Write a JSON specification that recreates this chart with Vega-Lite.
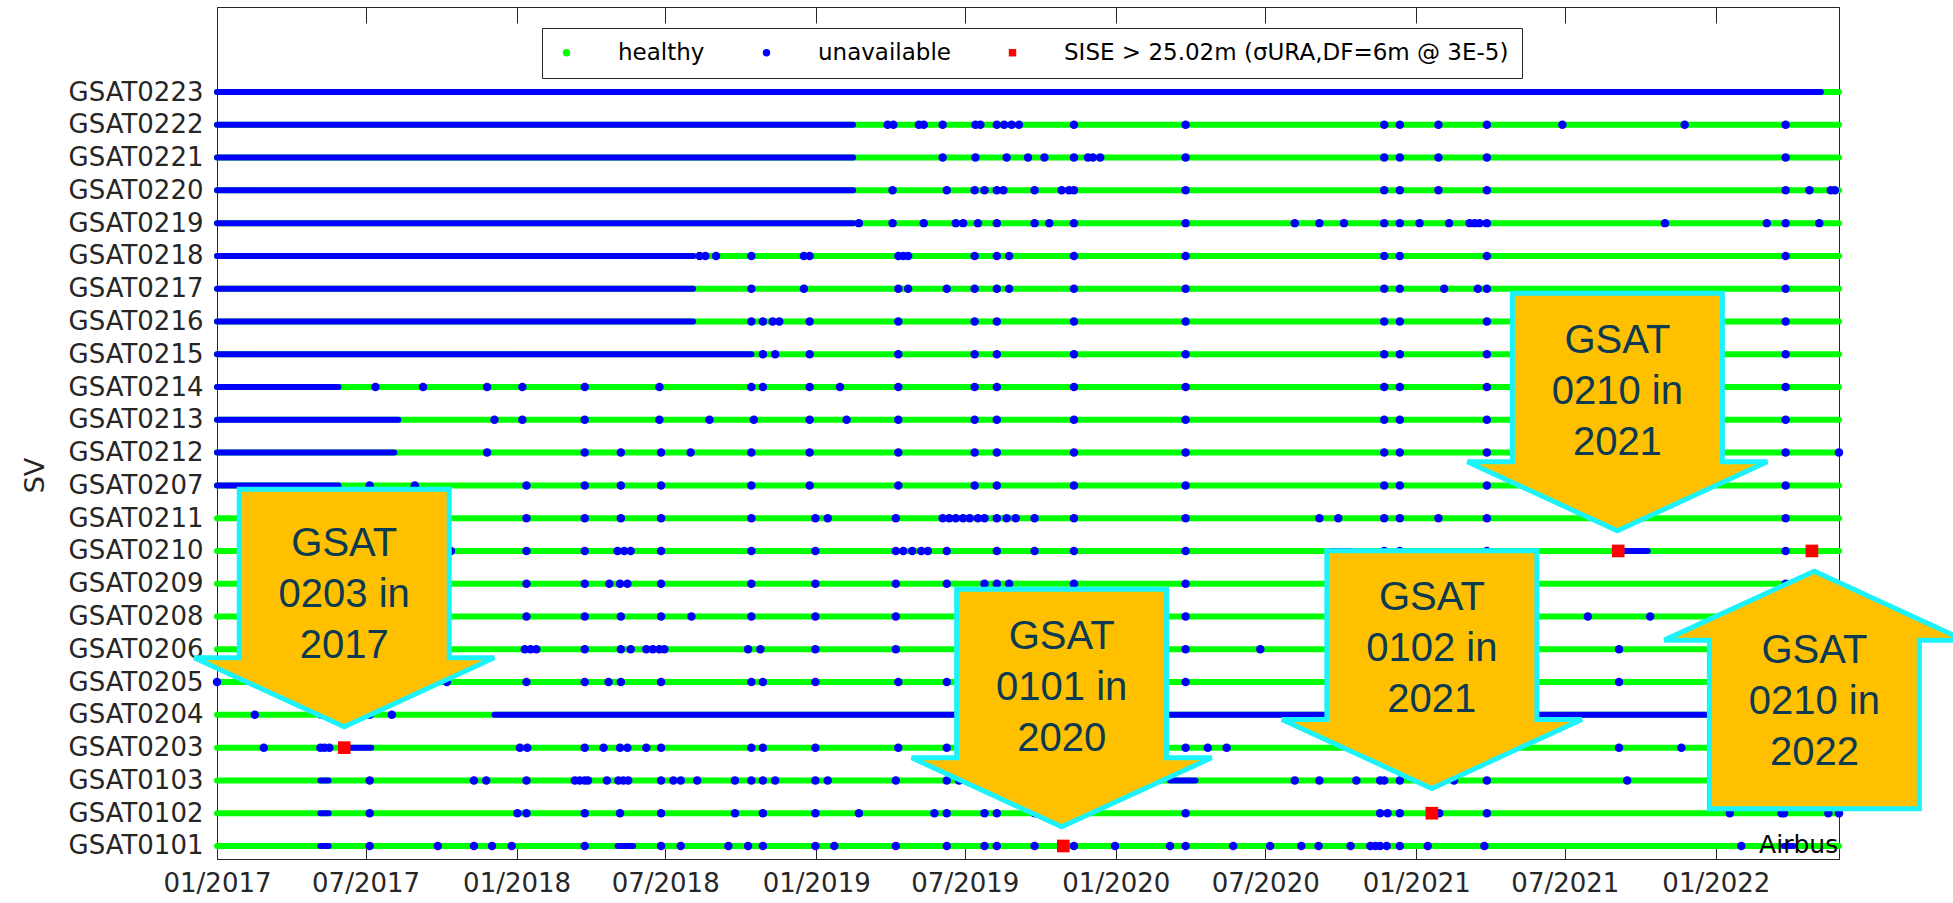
{
  "$schema": "https://vega.github.io/schema/vega-lite/v6.json",
  "width": 1622,
  "height": 852,
  "autosize": {"type": "none"},
  "padding": {"left": 217, "top": 7, "right": 114, "bottom": 44},
  "background": "white",
  "datasets": {
    "svs": [
      {"sv": "GSAT0101", "row": 1, "start": "2017-01-01", "end": "2022-05-31"},
      {"sv": "GSAT0102", "row": 2, "start": "2017-01-01", "end": "2022-05-31"},
      {"sv": "GSAT0103", "row": 3, "start": "2017-01-01", "end": "2022-05-31"},
      {"sv": "GSAT0203", "row": 4, "start": "2017-01-01", "end": "2022-05-31"},
      {"sv": "GSAT0204", "row": 5, "start": "2017-01-01", "end": "2022-05-31"},
      {"sv": "GSAT0205", "row": 6, "start": "2017-01-01", "end": "2022-05-31"},
      {"sv": "GSAT0206", "row": 7, "start": "2017-01-01", "end": "2022-05-31"},
      {"sv": "GSAT0208", "row": 8, "start": "2017-01-01", "end": "2022-05-31"},
      {"sv": "GSAT0209", "row": 9, "start": "2017-01-01", "end": "2022-05-31"},
      {"sv": "GSAT0210", "row": 10, "start": "2017-01-01", "end": "2022-05-31"},
      {"sv": "GSAT0211", "row": 11, "start": "2017-01-01", "end": "2022-05-31"},
      {"sv": "GSAT0207", "row": 12, "start": "2017-01-01", "end": "2022-05-31"},
      {"sv": "GSAT0212", "row": 13, "start": "2017-01-01", "end": "2022-05-31"},
      {"sv": "GSAT0213", "row": 14, "start": "2017-01-01", "end": "2022-05-31"},
      {"sv": "GSAT0214", "row": 15, "start": "2017-01-01", "end": "2022-05-31"},
      {"sv": "GSAT0215", "row": 16, "start": "2017-01-01", "end": "2022-05-31"},
      {"sv": "GSAT0216", "row": 17, "start": "2017-01-01", "end": "2022-05-31"},
      {"sv": "GSAT0217", "row": 18, "start": "2017-01-01", "end": "2022-05-31"},
      {"sv": "GSAT0218", "row": 19, "start": "2017-01-01", "end": "2022-05-31"},
      {"sv": "GSAT0219", "row": 20, "start": "2017-01-01", "end": "2022-05-31"},
      {"sv": "GSAT0220", "row": 21, "start": "2017-01-01", "end": "2022-05-31"},
      {"sv": "GSAT0221", "row": 22, "start": "2017-01-01", "end": "2022-05-31"},
      {"sv": "GSAT0222", "row": 23, "start": "2017-01-01", "end": "2022-05-31"},
      {"sv": "GSAT0223", "row": 24, "start": "2017-01-01", "end": "2022-05-31"}
    ],
    "blue": [
      {"sv": "GSAT0223", "start": "2017-01-01", "end": "2022-05-09"},
      {"sv": "GSAT0222", "start": "2017-01-01", "end": "2019-02-15"},
      {"sv": "GSAT0221", "start": "2017-01-01", "end": "2019-02-15"},
      {"sv": "GSAT0220", "start": "2017-01-01", "end": "2019-02-15"},
      {"sv": "GSAT0219", "start": "2017-01-01", "end": "2019-02-15"},
      {"sv": "GSAT0218", "start": "2017-01-01", "end": "2018-08-04"},
      {"sv": "GSAT0217", "start": "2017-01-01", "end": "2018-08-04"},
      {"sv": "GSAT0216", "start": "2017-01-01", "end": "2018-08-04"},
      {"sv": "GSAT0215", "start": "2017-01-01", "end": "2018-10-14"},
      {"sv": "GSAT0214", "start": "2017-01-01", "end": "2017-05-29"},
      {"sv": "GSAT0213", "start": "2017-01-01", "end": "2017-08-10"},
      {"sv": "GSAT0212", "start": "2017-01-01", "end": "2017-08-05"},
      {"sv": "GSAT0207", "start": "2017-01-01", "end": "2017-05-29"},
      {"sv": "GSAT0204", "start": "2017-12-05", "end": "2022-05-31"},
      {"sv": "GSAT0203", "start": "2017-06-14", "end": "2017-07-08"},
      {"sv": "GSAT0210", "start": "2020-09-20", "end": "2020-10-13"},
      {"sv": "GSAT0210", "start": "2021-09-10", "end": "2021-10-10"},
      {"sv": "GSAT0103", "start": "2020-03-07", "end": "2020-04-07"},
      {"sv": "GSAT0101", "start": "2018-05-04", "end": "2018-05-23"},
      {"sv": "GSAT0101", "start": "2022-03-25", "end": "2022-04-05"},
      {"sv": "GSAT0101", "start": "2017-05-07", "end": "2017-05-17"},
      {"sv": "GSAT0102", "start": "2017-05-07", "end": "2017-05-17"},
      {"sv": "GSAT0103", "start": "2017-05-07", "end": "2017-05-17"}
    ],
    "events": [
      {"sv": "GSAT0222", "date": "2019-03-29", "status": "unavailable"},
      {"sv": "GSAT0222", "date": "2019-04-05", "status": "unavailable"},
      {"sv": "GSAT0222", "date": "2019-05-06", "status": "unavailable"},
      {"sv": "GSAT0222", "date": "2019-05-12", "status": "unavailable"},
      {"sv": "GSAT0222", "date": "2019-06-04", "status": "unavailable"},
      {"sv": "GSAT0222", "date": "2019-07-14", "status": "unavailable"},
      {"sv": "GSAT0222", "date": "2019-07-20", "status": "unavailable"},
      {"sv": "GSAT0222", "date": "2019-08-09", "status": "unavailable"},
      {"sv": "GSAT0222", "date": "2019-08-18", "status": "unavailable"},
      {"sv": "GSAT0222", "date": "2019-08-27", "status": "unavailable"},
      {"sv": "GSAT0222", "date": "2019-09-05", "status": "unavailable"},
      {"sv": "GSAT0222", "date": "2019-11-11", "status": "unavailable"},
      {"sv": "GSAT0222", "date": "2020-03-26", "status": "unavailable"},
      {"sv": "GSAT0222", "date": "2020-11-23", "status": "unavailable"},
      {"sv": "GSAT0222", "date": "2020-12-12", "status": "unavailable"},
      {"sv": "GSAT0222", "date": "2021-01-28", "status": "unavailable"},
      {"sv": "GSAT0222", "date": "2021-03-28", "status": "unavailable"},
      {"sv": "GSAT0222", "date": "2021-06-28", "status": "unavailable"},
      {"sv": "GSAT0222", "date": "2021-11-24", "status": "unavailable"},
      {"sv": "GSAT0222", "date": "2022-03-27", "status": "unavailable"},
      {"sv": "GSAT0221", "date": "2019-06-04", "status": "unavailable"},
      {"sv": "GSAT0221", "date": "2019-07-14", "status": "unavailable"},
      {"sv": "GSAT0221", "date": "2019-08-21", "status": "unavailable"},
      {"sv": "GSAT0221", "date": "2019-09-16", "status": "unavailable"},
      {"sv": "GSAT0221", "date": "2019-10-06", "status": "unavailable"},
      {"sv": "GSAT0221", "date": "2019-11-11", "status": "unavailable"},
      {"sv": "GSAT0221", "date": "2019-11-28", "status": "unavailable"},
      {"sv": "GSAT0221", "date": "2019-12-04", "status": "unavailable"},
      {"sv": "GSAT0221", "date": "2019-12-13", "status": "unavailable"},
      {"sv": "GSAT0221", "date": "2020-03-26", "status": "unavailable"},
      {"sv": "GSAT0221", "date": "2020-11-23", "status": "unavailable"},
      {"sv": "GSAT0221", "date": "2020-12-12", "status": "unavailable"},
      {"sv": "GSAT0221", "date": "2021-01-28", "status": "unavailable"},
      {"sv": "GSAT0221", "date": "2021-03-28", "status": "unavailable"},
      {"sv": "GSAT0221", "date": "2022-03-27", "status": "unavailable"},
      {"sv": "GSAT0220", "date": "2019-04-04", "status": "unavailable"},
      {"sv": "GSAT0220", "date": "2019-06-09", "status": "unavailable"},
      {"sv": "GSAT0220", "date": "2019-07-13", "status": "unavailable"},
      {"sv": "GSAT0220", "date": "2019-07-25", "status": "unavailable"},
      {"sv": "GSAT0220", "date": "2019-08-09", "status": "unavailable"},
      {"sv": "GSAT0220", "date": "2019-08-17", "status": "unavailable"},
      {"sv": "GSAT0220", "date": "2019-09-24", "status": "unavailable"},
      {"sv": "GSAT0220", "date": "2019-10-27", "status": "unavailable"},
      {"sv": "GSAT0220", "date": "2019-11-05", "status": "unavailable"},
      {"sv": "GSAT0220", "date": "2019-11-11", "status": "unavailable"},
      {"sv": "GSAT0220", "date": "2020-03-26", "status": "unavailable"},
      {"sv": "GSAT0220", "date": "2020-11-23", "status": "unavailable"},
      {"sv": "GSAT0220", "date": "2020-12-12", "status": "unavailable"},
      {"sv": "GSAT0220", "date": "2021-01-28", "status": "unavailable"},
      {"sv": "GSAT0220", "date": "2021-03-28", "status": "unavailable"},
      {"sv": "GSAT0220", "date": "2022-03-27", "status": "unavailable"},
      {"sv": "GSAT0220", "date": "2022-04-25", "status": "unavailable"},
      {"sv": "GSAT0220", "date": "2022-05-21", "status": "unavailable"},
      {"sv": "GSAT0220", "date": "2022-05-26", "status": "unavailable"},
      {"sv": "GSAT0219", "date": "2019-02-22", "status": "unavailable"},
      {"sv": "GSAT0219", "date": "2019-04-04", "status": "unavailable"},
      {"sv": "GSAT0219", "date": "2019-05-12", "status": "unavailable"},
      {"sv": "GSAT0219", "date": "2019-06-20", "status": "unavailable"},
      {"sv": "GSAT0219", "date": "2019-06-29", "status": "unavailable"},
      {"sv": "GSAT0219", "date": "2019-07-17", "status": "unavailable"},
      {"sv": "GSAT0219", "date": "2019-08-09", "status": "unavailable"},
      {"sv": "GSAT0219", "date": "2019-09-24", "status": "unavailable"},
      {"sv": "GSAT0219", "date": "2019-10-12", "status": "unavailable"},
      {"sv": "GSAT0219", "date": "2019-11-11", "status": "unavailable"},
      {"sv": "GSAT0219", "date": "2020-03-26", "status": "unavailable"},
      {"sv": "GSAT0219", "date": "2020-08-06", "status": "unavailable"},
      {"sv": "GSAT0219", "date": "2020-09-05", "status": "unavailable"},
      {"sv": "GSAT0219", "date": "2020-10-05", "status": "unavailable"},
      {"sv": "GSAT0219", "date": "2020-11-23", "status": "unavailable"},
      {"sv": "GSAT0219", "date": "2020-12-12", "status": "unavailable"},
      {"sv": "GSAT0219", "date": "2021-01-05", "status": "unavailable"},
      {"sv": "GSAT0219", "date": "2021-02-10", "status": "unavailable"},
      {"sv": "GSAT0219", "date": "2021-03-07", "status": "unavailable"},
      {"sv": "GSAT0219", "date": "2021-03-13", "status": "unavailable"},
      {"sv": "GSAT0219", "date": "2021-03-19", "status": "unavailable"},
      {"sv": "GSAT0219", "date": "2021-03-28", "status": "unavailable"},
      {"sv": "GSAT0219", "date": "2021-10-31", "status": "unavailable"},
      {"sv": "GSAT0219", "date": "2022-03-04", "status": "unavailable"},
      {"sv": "GSAT0219", "date": "2022-03-27", "status": "unavailable"},
      {"sv": "GSAT0219", "date": "2022-05-07", "status": "unavailable"},
      {"sv": "GSAT0218", "date": "2018-08-12", "status": "unavailable"},
      {"sv": "GSAT0218", "date": "2018-08-19", "status": "unavailable"},
      {"sv": "GSAT0218", "date": "2018-09-01", "status": "unavailable"},
      {"sv": "GSAT0218", "date": "2018-10-14", "status": "unavailable"},
      {"sv": "GSAT0218", "date": "2018-12-17", "status": "unavailable"},
      {"sv": "GSAT0218", "date": "2018-12-24", "status": "unavailable"},
      {"sv": "GSAT0218", "date": "2019-04-11", "status": "unavailable"},
      {"sv": "GSAT0218", "date": "2019-04-17", "status": "unavailable"},
      {"sv": "GSAT0218", "date": "2019-04-23", "status": "unavailable"},
      {"sv": "GSAT0218", "date": "2019-07-13", "status": "unavailable"},
      {"sv": "GSAT0218", "date": "2019-08-09", "status": "unavailable"},
      {"sv": "GSAT0218", "date": "2019-08-24", "status": "unavailable"},
      {"sv": "GSAT0218", "date": "2019-11-11", "status": "unavailable"},
      {"sv": "GSAT0218", "date": "2020-03-26", "status": "unavailable"},
      {"sv": "GSAT0218", "date": "2020-11-23", "status": "unavailable"},
      {"sv": "GSAT0218", "date": "2020-12-12", "status": "unavailable"},
      {"sv": "GSAT0218", "date": "2021-03-28", "status": "unavailable"},
      {"sv": "GSAT0218", "date": "2022-03-27", "status": "unavailable"},
      {"sv": "GSAT0217", "date": "2018-10-14", "status": "unavailable"},
      {"sv": "GSAT0217", "date": "2018-12-17", "status": "unavailable"},
      {"sv": "GSAT0217", "date": "2019-04-11", "status": "unavailable"},
      {"sv": "GSAT0217", "date": "2019-04-23", "status": "unavailable"},
      {"sv": "GSAT0217", "date": "2019-06-09", "status": "unavailable"},
      {"sv": "GSAT0217", "date": "2019-07-13", "status": "unavailable"},
      {"sv": "GSAT0217", "date": "2019-08-09", "status": "unavailable"},
      {"sv": "GSAT0217", "date": "2019-08-24", "status": "unavailable"},
      {"sv": "GSAT0217", "date": "2019-11-11", "status": "unavailable"},
      {"sv": "GSAT0217", "date": "2020-03-26", "status": "unavailable"},
      {"sv": "GSAT0217", "date": "2020-11-23", "status": "unavailable"},
      {"sv": "GSAT0217", "date": "2020-12-12", "status": "unavailable"},
      {"sv": "GSAT0217", "date": "2021-02-04", "status": "unavailable"},
      {"sv": "GSAT0217", "date": "2021-03-17", "status": "unavailable"},
      {"sv": "GSAT0217", "date": "2021-03-28", "status": "unavailable"},
      {"sv": "GSAT0217", "date": "2022-03-27", "status": "unavailable"},
      {"sv": "GSAT0216", "date": "2018-10-14", "status": "unavailable"},
      {"sv": "GSAT0216", "date": "2018-10-28", "status": "unavailable"},
      {"sv": "GSAT0216", "date": "2018-11-09", "status": "unavailable"},
      {"sv": "GSAT0216", "date": "2018-11-17", "status": "unavailable"},
      {"sv": "GSAT0216", "date": "2018-12-24", "status": "unavailable"},
      {"sv": "GSAT0216", "date": "2019-04-11", "status": "unavailable"},
      {"sv": "GSAT0216", "date": "2019-07-13", "status": "unavailable"},
      {"sv": "GSAT0216", "date": "2019-08-09", "status": "unavailable"},
      {"sv": "GSAT0216", "date": "2019-11-11", "status": "unavailable"},
      {"sv": "GSAT0216", "date": "2020-03-26", "status": "unavailable"},
      {"sv": "GSAT0216", "date": "2020-11-23", "status": "unavailable"},
      {"sv": "GSAT0216", "date": "2020-12-12", "status": "unavailable"},
      {"sv": "GSAT0216", "date": "2021-03-28", "status": "unavailable"},
      {"sv": "GSAT0216", "date": "2022-03-27", "status": "unavailable"},
      {"sv": "GSAT0215", "date": "2018-10-28", "status": "unavailable"},
      {"sv": "GSAT0215", "date": "2018-11-12", "status": "unavailable"},
      {"sv": "GSAT0215", "date": "2018-12-24", "status": "unavailable"},
      {"sv": "GSAT0215", "date": "2019-04-11", "status": "unavailable"},
      {"sv": "GSAT0215", "date": "2019-07-13", "status": "unavailable"},
      {"sv": "GSAT0215", "date": "2019-08-09", "status": "unavailable"},
      {"sv": "GSAT0215", "date": "2019-11-11", "status": "unavailable"},
      {"sv": "GSAT0215", "date": "2020-03-26", "status": "unavailable"},
      {"sv": "GSAT0215", "date": "2020-11-23", "status": "unavailable"},
      {"sv": "GSAT0215", "date": "2020-12-12", "status": "unavailable"},
      {"sv": "GSAT0215", "date": "2021-03-28", "status": "unavailable"},
      {"sv": "GSAT0215", "date": "2022-03-27", "status": "unavailable"},
      {"sv": "GSAT0214", "date": "2017-07-13", "status": "unavailable"},
      {"sv": "GSAT0214", "date": "2017-09-09", "status": "unavailable"},
      {"sv": "GSAT0214", "date": "2017-11-26", "status": "unavailable"},
      {"sv": "GSAT0214", "date": "2018-01-08", "status": "unavailable"},
      {"sv": "GSAT0214", "date": "2018-03-25", "status": "unavailable"},
      {"sv": "GSAT0214", "date": "2018-06-24", "status": "unavailable"},
      {"sv": "GSAT0214", "date": "2018-10-14", "status": "unavailable"},
      {"sv": "GSAT0214", "date": "2018-10-28", "status": "unavailable"},
      {"sv": "GSAT0214", "date": "2018-12-24", "status": "unavailable"},
      {"sv": "GSAT0214", "date": "2019-01-30", "status": "unavailable"},
      {"sv": "GSAT0214", "date": "2019-04-11", "status": "unavailable"},
      {"sv": "GSAT0214", "date": "2019-07-13", "status": "unavailable"},
      {"sv": "GSAT0214", "date": "2019-08-09", "status": "unavailable"},
      {"sv": "GSAT0214", "date": "2019-11-11", "status": "unavailable"},
      {"sv": "GSAT0214", "date": "2020-03-26", "status": "unavailable"},
      {"sv": "GSAT0214", "date": "2020-11-23", "status": "unavailable"},
      {"sv": "GSAT0214", "date": "2020-12-12", "status": "unavailable"},
      {"sv": "GSAT0214", "date": "2021-03-28", "status": "unavailable"},
      {"sv": "GSAT0214", "date": "2022-03-27", "status": "unavailable"},
      {"sv": "GSAT0213", "date": "2017-12-05", "status": "unavailable"},
      {"sv": "GSAT0213", "date": "2018-01-08", "status": "unavailable"},
      {"sv": "GSAT0213", "date": "2018-03-25", "status": "unavailable"},
      {"sv": "GSAT0213", "date": "2018-06-24", "status": "unavailable"},
      {"sv": "GSAT0213", "date": "2018-08-24", "status": "unavailable"},
      {"sv": "GSAT0213", "date": "2018-10-17", "status": "unavailable"},
      {"sv": "GSAT0213", "date": "2018-12-24", "status": "unavailable"},
      {"sv": "GSAT0213", "date": "2019-02-07", "status": "unavailable"},
      {"sv": "GSAT0213", "date": "2019-04-11", "status": "unavailable"},
      {"sv": "GSAT0213", "date": "2019-07-13", "status": "unavailable"},
      {"sv": "GSAT0213", "date": "2019-08-09", "status": "unavailable"},
      {"sv": "GSAT0213", "date": "2019-11-11", "status": "unavailable"},
      {"sv": "GSAT0213", "date": "2020-03-26", "status": "unavailable"},
      {"sv": "GSAT0213", "date": "2020-11-23", "status": "unavailable"},
      {"sv": "GSAT0213", "date": "2020-12-12", "status": "unavailable"},
      {"sv": "GSAT0213", "date": "2021-03-28", "status": "unavailable"},
      {"sv": "GSAT0213", "date": "2022-03-27", "status": "unavailable"},
      {"sv": "GSAT0212", "date": "2017-11-26", "status": "unavailable"},
      {"sv": "GSAT0212", "date": "2018-03-25", "status": "unavailable"},
      {"sv": "GSAT0212", "date": "2018-05-08", "status": "unavailable"},
      {"sv": "GSAT0212", "date": "2018-06-26", "status": "unavailable"},
      {"sv": "GSAT0212", "date": "2018-08-01", "status": "unavailable"},
      {"sv": "GSAT0212", "date": "2018-10-14", "status": "unavailable"},
      {"sv": "GSAT0212", "date": "2018-12-24", "status": "unavailable"},
      {"sv": "GSAT0212", "date": "2019-04-11", "status": "unavailable"},
      {"sv": "GSAT0212", "date": "2019-07-13", "status": "unavailable"},
      {"sv": "GSAT0212", "date": "2019-08-09", "status": "unavailable"},
      {"sv": "GSAT0212", "date": "2019-11-11", "status": "unavailable"},
      {"sv": "GSAT0212", "date": "2020-03-26", "status": "unavailable"},
      {"sv": "GSAT0212", "date": "2020-11-23", "status": "unavailable"},
      {"sv": "GSAT0212", "date": "2020-12-12", "status": "unavailable"},
      {"sv": "GSAT0212", "date": "2021-03-28", "status": "unavailable"},
      {"sv": "GSAT0212", "date": "2022-03-27", "status": "unavailable"},
      {"sv": "GSAT0212", "date": "2022-05-31", "status": "unavailable"},
      {"sv": "GSAT0207", "date": "2017-07-06", "status": "unavailable"},
      {"sv": "GSAT0207", "date": "2017-08-30", "status": "unavailable"},
      {"sv": "GSAT0207", "date": "2018-01-13", "status": "unavailable"},
      {"sv": "GSAT0207", "date": "2018-03-25", "status": "unavailable"},
      {"sv": "GSAT0207", "date": "2018-05-08", "status": "unavailable"},
      {"sv": "GSAT0207", "date": "2018-06-26", "status": "unavailable"},
      {"sv": "GSAT0207", "date": "2018-10-14", "status": "unavailable"},
      {"sv": "GSAT0207", "date": "2018-12-24", "status": "unavailable"},
      {"sv": "GSAT0207", "date": "2019-04-11", "status": "unavailable"},
      {"sv": "GSAT0207", "date": "2019-07-13", "status": "unavailable"},
      {"sv": "GSAT0207", "date": "2019-08-09", "status": "unavailable"},
      {"sv": "GSAT0207", "date": "2019-11-11", "status": "unavailable"},
      {"sv": "GSAT0207", "date": "2020-03-26", "status": "unavailable"},
      {"sv": "GSAT0207", "date": "2020-11-23", "status": "unavailable"},
      {"sv": "GSAT0207", "date": "2020-12-12", "status": "unavailable"},
      {"sv": "GSAT0207", "date": "2021-03-28", "status": "unavailable"},
      {"sv": "GSAT0207", "date": "2022-03-27", "status": "unavailable"},
      {"sv": "GSAT0211", "date": "2018-01-13", "status": "unavailable"},
      {"sv": "GSAT0211", "date": "2018-03-25", "status": "unavailable"},
      {"sv": "GSAT0211", "date": "2018-05-08", "status": "unavailable"},
      {"sv": "GSAT0211", "date": "2018-06-26", "status": "unavailable"},
      {"sv": "GSAT0211", "date": "2018-10-14", "status": "unavailable"},
      {"sv": "GSAT0211", "date": "2018-12-31", "status": "unavailable"},
      {"sv": "GSAT0211", "date": "2019-01-15", "status": "unavailable"},
      {"sv": "GSAT0211", "date": "2019-04-08", "status": "unavailable"},
      {"sv": "GSAT0211", "date": "2019-06-04", "status": "unavailable"},
      {"sv": "GSAT0211", "date": "2019-06-12", "status": "unavailable"},
      {"sv": "GSAT0211", "date": "2019-06-20", "status": "unavailable"},
      {"sv": "GSAT0211", "date": "2019-06-29", "status": "unavailable"},
      {"sv": "GSAT0211", "date": "2019-07-07", "status": "unavailable"},
      {"sv": "GSAT0211", "date": "2019-07-17", "status": "unavailable"},
      {"sv": "GSAT0211", "date": "2019-07-25", "status": "unavailable"},
      {"sv": "GSAT0211", "date": "2019-08-09", "status": "unavailable"},
      {"sv": "GSAT0211", "date": "2019-08-21", "status": "unavailable"},
      {"sv": "GSAT0211", "date": "2019-09-01", "status": "unavailable"},
      {"sv": "GSAT0211", "date": "2019-09-24", "status": "unavailable"},
      {"sv": "GSAT0211", "date": "2019-11-11", "status": "unavailable"},
      {"sv": "GSAT0211", "date": "2020-03-26", "status": "unavailable"},
      {"sv": "GSAT0211", "date": "2020-09-05", "status": "unavailable"},
      {"sv": "GSAT0211", "date": "2020-09-28", "status": "unavailable"},
      {"sv": "GSAT0211", "date": "2020-11-23", "status": "unavailable"},
      {"sv": "GSAT0211", "date": "2020-12-12", "status": "unavailable"},
      {"sv": "GSAT0211", "date": "2021-01-28", "status": "unavailable"},
      {"sv": "GSAT0211", "date": "2021-03-28", "status": "unavailable"},
      {"sv": "GSAT0211", "date": "2022-03-27", "status": "unavailable"},
      {"sv": "GSAT0210", "date": "2017-10-13", "status": "unavailable"},
      {"sv": "GSAT0210", "date": "2018-01-13", "status": "unavailable"},
      {"sv": "GSAT0210", "date": "2018-03-25", "status": "unavailable"},
      {"sv": "GSAT0210", "date": "2018-05-04", "status": "unavailable"},
      {"sv": "GSAT0210", "date": "2018-05-12", "status": "unavailable"},
      {"sv": "GSAT0210", "date": "2018-05-20", "status": "unavailable"},
      {"sv": "GSAT0210", "date": "2018-06-26", "status": "unavailable"},
      {"sv": "GSAT0210", "date": "2018-10-14", "status": "unavailable"},
      {"sv": "GSAT0210", "date": "2018-12-31", "status": "unavailable"},
      {"sv": "GSAT0210", "date": "2019-04-08", "status": "unavailable"},
      {"sv": "GSAT0210", "date": "2019-04-17", "status": "unavailable"},
      {"sv": "GSAT0210", "date": "2019-04-28", "status": "unavailable"},
      {"sv": "GSAT0210", "date": "2019-05-09", "status": "unavailable"},
      {"sv": "GSAT0210", "date": "2019-05-17", "status": "unavailable"},
      {"sv": "GSAT0210", "date": "2019-06-09", "status": "unavailable"},
      {"sv": "GSAT0210", "date": "2019-08-09", "status": "unavailable"},
      {"sv": "GSAT0210", "date": "2019-09-24", "status": "unavailable"},
      {"sv": "GSAT0210", "date": "2019-11-11", "status": "unavailable"},
      {"sv": "GSAT0210", "date": "2020-03-26", "status": "unavailable"},
      {"sv": "GSAT0210", "date": "2020-11-23", "status": "unavailable"},
      {"sv": "GSAT0210", "date": "2020-12-12", "status": "unavailable"},
      {"sv": "GSAT0210", "date": "2021-03-28", "status": "unavailable"},
      {"sv": "GSAT0210", "date": "2022-03-27", "status": "unavailable"},
      {"sv": "GSAT0209", "date": "2018-01-13", "status": "unavailable"},
      {"sv": "GSAT0209", "date": "2018-03-25", "status": "unavailable"},
      {"sv": "GSAT0209", "date": "2018-04-24", "status": "unavailable"},
      {"sv": "GSAT0209", "date": "2018-05-07", "status": "unavailable"},
      {"sv": "GSAT0209", "date": "2018-05-16", "status": "unavailable"},
      {"sv": "GSAT0209", "date": "2018-06-26", "status": "unavailable"},
      {"sv": "GSAT0209", "date": "2018-10-14", "status": "unavailable"},
      {"sv": "GSAT0209", "date": "2018-12-31", "status": "unavailable"},
      {"sv": "GSAT0209", "date": "2019-04-08", "status": "unavailable"},
      {"sv": "GSAT0209", "date": "2019-06-09", "status": "unavailable"},
      {"sv": "GSAT0209", "date": "2019-07-25", "status": "unavailable"},
      {"sv": "GSAT0209", "date": "2019-08-09", "status": "unavailable"},
      {"sv": "GSAT0209", "date": "2019-08-24", "status": "unavailable"},
      {"sv": "GSAT0209", "date": "2019-11-11", "status": "unavailable"},
      {"sv": "GSAT0209", "date": "2020-03-26", "status": "unavailable"},
      {"sv": "GSAT0209", "date": "2020-11-23", "status": "unavailable"},
      {"sv": "GSAT0209", "date": "2020-12-12", "status": "unavailable"},
      {"sv": "GSAT0209", "date": "2021-01-28", "status": "unavailable"},
      {"sv": "GSAT0209", "date": "2021-03-28", "status": "unavailable"},
      {"sv": "GSAT0209", "date": "2022-03-27", "status": "unavailable"},
      {"sv": "GSAT0208", "date": "2018-01-13", "status": "unavailable"},
      {"sv": "GSAT0208", "date": "2018-03-25", "status": "unavailable"},
      {"sv": "GSAT0208", "date": "2018-05-08", "status": "unavailable"},
      {"sv": "GSAT0208", "date": "2018-06-26", "status": "unavailable"},
      {"sv": "GSAT0208", "date": "2018-08-02", "status": "unavailable"},
      {"sv": "GSAT0208", "date": "2018-10-14", "status": "unavailable"},
      {"sv": "GSAT0208", "date": "2018-12-31", "status": "unavailable"},
      {"sv": "GSAT0208", "date": "2019-04-08", "status": "unavailable"},
      {"sv": "GSAT0208", "date": "2019-07-25", "status": "unavailable"},
      {"sv": "GSAT0208", "date": "2019-08-09", "status": "unavailable"},
      {"sv": "GSAT0208", "date": "2019-11-11", "status": "unavailable"},
      {"sv": "GSAT0208", "date": "2020-03-26", "status": "unavailable"},
      {"sv": "GSAT0208", "date": "2020-11-23", "status": "unavailable"},
      {"sv": "GSAT0208", "date": "2020-12-12", "status": "unavailable"},
      {"sv": "GSAT0208", "date": "2021-03-28", "status": "unavailable"},
      {"sv": "GSAT0208", "date": "2021-07-29", "status": "unavailable"},
      {"sv": "GSAT0208", "date": "2021-10-13", "status": "unavailable"},
      {"sv": "GSAT0206", "date": "2018-01-11", "status": "unavailable"},
      {"sv": "GSAT0206", "date": "2018-01-18", "status": "unavailable"},
      {"sv": "GSAT0206", "date": "2018-01-25", "status": "unavailable"},
      {"sv": "GSAT0206", "date": "2018-03-25", "status": "unavailable"},
      {"sv": "GSAT0206", "date": "2018-05-08", "status": "unavailable"},
      {"sv": "GSAT0206", "date": "2018-05-20", "status": "unavailable"},
      {"sv": "GSAT0206", "date": "2018-06-08", "status": "unavailable"},
      {"sv": "GSAT0206", "date": "2018-06-16", "status": "unavailable"},
      {"sv": "GSAT0206", "date": "2018-06-24", "status": "unavailable"},
      {"sv": "GSAT0206", "date": "2018-06-30", "status": "unavailable"},
      {"sv": "GSAT0206", "date": "2018-10-10", "status": "unavailable"},
      {"sv": "GSAT0206", "date": "2018-10-25", "status": "unavailable"},
      {"sv": "GSAT0206", "date": "2018-12-31", "status": "unavailable"},
      {"sv": "GSAT0206", "date": "2019-04-08", "status": "unavailable"},
      {"sv": "GSAT0206", "date": "2019-07-25", "status": "unavailable"},
      {"sv": "GSAT0206", "date": "2019-08-09", "status": "unavailable"},
      {"sv": "GSAT0206", "date": "2019-11-11", "status": "unavailable"},
      {"sv": "GSAT0206", "date": "2020-03-26", "status": "unavailable"},
      {"sv": "GSAT0206", "date": "2020-06-25", "status": "unavailable"},
      {"sv": "GSAT0206", "date": "2020-11-23", "status": "unavailable"},
      {"sv": "GSAT0206", "date": "2020-12-12", "status": "unavailable"},
      {"sv": "GSAT0206", "date": "2021-03-28", "status": "unavailable"},
      {"sv": "GSAT0206", "date": "2021-09-05", "status": "unavailable"},
      {"sv": "GSAT0205", "date": "2017-01-01", "status": "unavailable"},
      {"sv": "GSAT0205", "date": "2017-10-08", "status": "unavailable"},
      {"sv": "GSAT0205", "date": "2018-01-13", "status": "unavailable"},
      {"sv": "GSAT0205", "date": "2018-03-25", "status": "unavailable"},
      {"sv": "GSAT0205", "date": "2018-04-23", "status": "unavailable"},
      {"sv": "GSAT0205", "date": "2018-05-08", "status": "unavailable"},
      {"sv": "GSAT0205", "date": "2018-06-26", "status": "unavailable"},
      {"sv": "GSAT0205", "date": "2018-10-14", "status": "unavailable"},
      {"sv": "GSAT0205", "date": "2018-10-28", "status": "unavailable"},
      {"sv": "GSAT0205", "date": "2018-12-31", "status": "unavailable"},
      {"sv": "GSAT0205", "date": "2019-04-11", "status": "unavailable"},
      {"sv": "GSAT0205", "date": "2019-06-09", "status": "unavailable"},
      {"sv": "GSAT0205", "date": "2019-07-25", "status": "unavailable"},
      {"sv": "GSAT0205", "date": "2019-08-09", "status": "unavailable"},
      {"sv": "GSAT0205", "date": "2019-11-11", "status": "unavailable"},
      {"sv": "GSAT0205", "date": "2020-03-26", "status": "unavailable"},
      {"sv": "GSAT0205", "date": "2020-11-23", "status": "unavailable"},
      {"sv": "GSAT0205", "date": "2020-12-12", "status": "unavailable"},
      {"sv": "GSAT0205", "date": "2021-03-28", "status": "unavailable"},
      {"sv": "GSAT0205", "date": "2021-09-05", "status": "unavailable"},
      {"sv": "GSAT0204", "date": "2017-02-16", "status": "unavailable"},
      {"sv": "GSAT0204", "date": "2017-05-08", "status": "unavailable"},
      {"sv": "GSAT0204", "date": "2017-05-18", "status": "unavailable"},
      {"sv": "GSAT0204", "date": "2017-07-06", "status": "unavailable"},
      {"sv": "GSAT0204", "date": "2017-08-02", "status": "unavailable"},
      {"sv": "GSAT0203", "date": "2017-02-27", "status": "unavailable"},
      {"sv": "GSAT0203", "date": "2017-05-07", "status": "unavailable"},
      {"sv": "GSAT0203", "date": "2017-05-12", "status": "unavailable"},
      {"sv": "GSAT0203", "date": "2017-05-18", "status": "unavailable"},
      {"sv": "GSAT0203", "date": "2018-01-05", "status": "unavailable"},
      {"sv": "GSAT0203", "date": "2018-01-14", "status": "unavailable"},
      {"sv": "GSAT0203", "date": "2018-03-25", "status": "unavailable"},
      {"sv": "GSAT0203", "date": "2018-04-17", "status": "unavailable"},
      {"sv": "GSAT0203", "date": "2018-05-07", "status": "unavailable"},
      {"sv": "GSAT0203", "date": "2018-05-16", "status": "unavailable"},
      {"sv": "GSAT0203", "date": "2018-06-08", "status": "unavailable"},
      {"sv": "GSAT0203", "date": "2018-06-26", "status": "unavailable"},
      {"sv": "GSAT0203", "date": "2018-10-14", "status": "unavailable"},
      {"sv": "GSAT0203", "date": "2018-10-28", "status": "unavailable"},
      {"sv": "GSAT0203", "date": "2018-12-31", "status": "unavailable"},
      {"sv": "GSAT0203", "date": "2019-04-11", "status": "unavailable"},
      {"sv": "GSAT0203", "date": "2019-06-09", "status": "unavailable"},
      {"sv": "GSAT0203", "date": "2019-08-09", "status": "unavailable"},
      {"sv": "GSAT0203", "date": "2019-11-11", "status": "unavailable"},
      {"sv": "GSAT0203", "date": "2020-03-26", "status": "unavailable"},
      {"sv": "GSAT0203", "date": "2020-04-22", "status": "unavailable"},
      {"sv": "GSAT0203", "date": "2020-05-15", "status": "unavailable"},
      {"sv": "GSAT0203", "date": "2020-11-23", "status": "unavailable"},
      {"sv": "GSAT0203", "date": "2020-12-12", "status": "unavailable"},
      {"sv": "GSAT0203", "date": "2021-03-28", "status": "unavailable"},
      {"sv": "GSAT0203", "date": "2021-09-05", "status": "unavailable"},
      {"sv": "GSAT0203", "date": "2021-11-20", "status": "unavailable"},
      {"sv": "GSAT0103", "date": "2017-07-06", "status": "unavailable"},
      {"sv": "GSAT0103", "date": "2017-11-10", "status": "unavailable"},
      {"sv": "GSAT0103", "date": "2017-11-25", "status": "unavailable"},
      {"sv": "GSAT0103", "date": "2018-01-13", "status": "unavailable"},
      {"sv": "GSAT0103", "date": "2018-03-13", "status": "unavailable"},
      {"sv": "GSAT0103", "date": "2018-03-19", "status": "unavailable"},
      {"sv": "GSAT0103", "date": "2018-03-25", "status": "unavailable"},
      {"sv": "GSAT0103", "date": "2018-03-29", "status": "unavailable"},
      {"sv": "GSAT0103", "date": "2018-04-21", "status": "unavailable"},
      {"sv": "GSAT0103", "date": "2018-05-05", "status": "unavailable"},
      {"sv": "GSAT0103", "date": "2018-05-11", "status": "unavailable"},
      {"sv": "GSAT0103", "date": "2018-05-17", "status": "unavailable"},
      {"sv": "GSAT0103", "date": "2018-06-26", "status": "unavailable"},
      {"sv": "GSAT0103", "date": "2018-07-11", "status": "unavailable"},
      {"sv": "GSAT0103", "date": "2018-07-20", "status": "unavailable"},
      {"sv": "GSAT0103", "date": "2018-08-09", "status": "unavailable"},
      {"sv": "GSAT0103", "date": "2018-09-24", "status": "unavailable"},
      {"sv": "GSAT0103", "date": "2018-10-14", "status": "unavailable"},
      {"sv": "GSAT0103", "date": "2018-10-28", "status": "unavailable"},
      {"sv": "GSAT0103", "date": "2018-11-12", "status": "unavailable"},
      {"sv": "GSAT0103", "date": "2018-12-31", "status": "unavailable"},
      {"sv": "GSAT0103", "date": "2019-01-15", "status": "unavailable"},
      {"sv": "GSAT0103", "date": "2019-04-08", "status": "unavailable"},
      {"sv": "GSAT0103", "date": "2019-06-09", "status": "unavailable"},
      {"sv": "GSAT0103", "date": "2019-06-24", "status": "unavailable"},
      {"sv": "GSAT0103", "date": "2019-07-25", "status": "unavailable"},
      {"sv": "GSAT0103", "date": "2019-08-09", "status": "unavailable"},
      {"sv": "GSAT0103", "date": "2019-09-24", "status": "unavailable"},
      {"sv": "GSAT0103", "date": "2019-11-11", "status": "unavailable"},
      {"sv": "GSAT0103", "date": "2019-12-31", "status": "unavailable"},
      {"sv": "GSAT0103", "date": "2020-01-14", "status": "unavailable"},
      {"sv": "GSAT0103", "date": "2020-08-06", "status": "unavailable"},
      {"sv": "GSAT0103", "date": "2020-09-05", "status": "unavailable"},
      {"sv": "GSAT0103", "date": "2020-10-20", "status": "unavailable"},
      {"sv": "GSAT0103", "date": "2020-11-18", "status": "unavailable"},
      {"sv": "GSAT0103", "date": "2020-11-23", "status": "unavailable"},
      {"sv": "GSAT0103", "date": "2020-12-12", "status": "unavailable"},
      {"sv": "GSAT0103", "date": "2021-01-28", "status": "unavailable"},
      {"sv": "GSAT0103", "date": "2021-02-16", "status": "unavailable"},
      {"sv": "GSAT0103", "date": "2021-03-28", "status": "unavailable"},
      {"sv": "GSAT0103", "date": "2021-09-15", "status": "unavailable"},
      {"sv": "GSAT0102", "date": "2017-07-06", "status": "unavailable"},
      {"sv": "GSAT0102", "date": "2018-01-02", "status": "unavailable"},
      {"sv": "GSAT0102", "date": "2018-01-13", "status": "unavailable"},
      {"sv": "GSAT0102", "date": "2018-03-25", "status": "unavailable"},
      {"sv": "GSAT0102", "date": "2018-05-07", "status": "unavailable"},
      {"sv": "GSAT0102", "date": "2018-06-26", "status": "unavailable"},
      {"sv": "GSAT0102", "date": "2018-09-24", "status": "unavailable"},
      {"sv": "GSAT0102", "date": "2018-10-28", "status": "unavailable"},
      {"sv": "GSAT0102", "date": "2018-12-31", "status": "unavailable"},
      {"sv": "GSAT0102", "date": "2019-02-22", "status": "unavailable"},
      {"sv": "GSAT0102", "date": "2019-05-25", "status": "unavailable"},
      {"sv": "GSAT0102", "date": "2019-06-09", "status": "unavailable"},
      {"sv": "GSAT0102", "date": "2019-07-25", "status": "unavailable"},
      {"sv": "GSAT0102", "date": "2019-08-09", "status": "unavailable"},
      {"sv": "GSAT0102", "date": "2019-09-24", "status": "unavailable"},
      {"sv": "GSAT0102", "date": "2019-11-11", "status": "unavailable"},
      {"sv": "GSAT0102", "date": "2020-03-26", "status": "unavailable"},
      {"sv": "GSAT0102", "date": "2020-11-18", "status": "unavailable"},
      {"sv": "GSAT0102", "date": "2020-11-27", "status": "unavailable"},
      {"sv": "GSAT0102", "date": "2020-12-12", "status": "unavailable"},
      {"sv": "GSAT0102", "date": "2021-01-29", "status": "unavailable"},
      {"sv": "GSAT0102", "date": "2021-03-28", "status": "unavailable"},
      {"sv": "GSAT0102", "date": "2022-01-18", "status": "unavailable"},
      {"sv": "GSAT0102", "date": "2022-03-22", "status": "unavailable"},
      {"sv": "GSAT0102", "date": "2022-03-25", "status": "unavailable"},
      {"sv": "GSAT0102", "date": "2022-05-18", "status": "unavailable"},
      {"sv": "GSAT0102", "date": "2022-05-31", "status": "unavailable"},
      {"sv": "GSAT0101", "date": "2017-07-06", "status": "unavailable"},
      {"sv": "GSAT0101", "date": "2017-09-27", "status": "unavailable"},
      {"sv": "GSAT0101", "date": "2017-11-10", "status": "unavailable"},
      {"sv": "GSAT0101", "date": "2017-12-02", "status": "unavailable"},
      {"sv": "GSAT0101", "date": "2017-12-26", "status": "unavailable"},
      {"sv": "GSAT0101", "date": "2018-03-25", "status": "unavailable"},
      {"sv": "GSAT0101", "date": "2018-06-26", "status": "unavailable"},
      {"sv": "GSAT0101", "date": "2018-07-20", "status": "unavailable"},
      {"sv": "GSAT0101", "date": "2018-09-16", "status": "unavailable"},
      {"sv": "GSAT0101", "date": "2018-10-10", "status": "unavailable"},
      {"sv": "GSAT0101", "date": "2018-10-28", "status": "unavailable"},
      {"sv": "GSAT0101", "date": "2018-12-31", "status": "unavailable"},
      {"sv": "GSAT0101", "date": "2019-01-23", "status": "unavailable"},
      {"sv": "GSAT0101", "date": "2019-04-08", "status": "unavailable"},
      {"sv": "GSAT0101", "date": "2019-06-09", "status": "unavailable"},
      {"sv": "GSAT0101", "date": "2019-07-25", "status": "unavailable"},
      {"sv": "GSAT0101", "date": "2019-08-09", "status": "unavailable"},
      {"sv": "GSAT0101", "date": "2019-09-24", "status": "unavailable"},
      {"sv": "GSAT0101", "date": "2019-11-11", "status": "unavailable"},
      {"sv": "GSAT0101", "date": "2019-12-31", "status": "unavailable"},
      {"sv": "GSAT0101", "date": "2020-03-07", "status": "unavailable"},
      {"sv": "GSAT0101", "date": "2020-03-26", "status": "unavailable"},
      {"sv": "GSAT0101", "date": "2020-05-23", "status": "unavailable"},
      {"sv": "GSAT0101", "date": "2020-07-07", "status": "unavailable"},
      {"sv": "GSAT0101", "date": "2020-08-14", "status": "unavailable"},
      {"sv": "GSAT0101", "date": "2020-09-04", "status": "unavailable"},
      {"sv": "GSAT0101", "date": "2020-10-13", "status": "unavailable"},
      {"sv": "GSAT0101", "date": "2020-11-06", "status": "unavailable"},
      {"sv": "GSAT0101", "date": "2020-11-12", "status": "unavailable"},
      {"sv": "GSAT0101", "date": "2020-11-18", "status": "unavailable"},
      {"sv": "GSAT0101", "date": "2020-11-26", "status": "unavailable"},
      {"sv": "GSAT0101", "date": "2020-12-12", "status": "unavailable"},
      {"sv": "GSAT0101", "date": "2021-01-15", "status": "unavailable"},
      {"sv": "GSAT0101", "date": "2021-03-25", "status": "unavailable"},
      {"sv": "GSAT0101", "date": "2022-02-01", "status": "unavailable"},
      {"sv": "GSAT0203", "date": "2017-06-05", "status": "SISE"},
      {"sv": "GSAT0101", "date": "2019-10-29", "status": "SISE"},
      {"sv": "GSAT0102", "date": "2021-01-20", "status": "SISE"},
      {"sv": "GSAT0210", "date": "2021-09-04", "status": "SISE"},
      {"sv": "GSAT0210", "date": "2022-04-28", "status": "SISE"}
    ],
    "arrows": [
      {"label": "GSAT\n0203 in\n2017", "date": "2017-06-05", "row": 8.26, "textRow": 10.2, "dir": "down"},
      {"label": "GSAT\n0101 in\n2020", "date": "2019-10-27", "row": 5.21, "textRow": 7.38, "dir": "down"},
      {"label": "GSAT\n0102 in\n2021", "date": "2021-01-20", "row": 6.38, "textRow": 8.55, "dir": "down"},
      {"label": "GSAT\n0210 in\n2021", "date": "2021-09-03", "row": 14.24, "textRow": 16.41, "dir": "down"},
      {"label": "GSAT\n0210 in\n2022", "date": "2022-05-01", "row": 5.76, "textRow": 6.95, "dir": "up"}
    ],
    "notes": [
      {"text": "Airbus", "date": "2022-05-30", "row": 0.78}
    ]
  },
  "layer": [
    {
      "data": {"name": "svs"},
      "mark": {"type": "rule", "stroke": "#00FF00", "strokeWidth": 6, "strokeCap": "round"},
      "encoding": {
        "x": {
          "field": "start", "type": "temporal",
          "scale": {"type": "utc", "domain": [{"year": 2017, "month": 1, "date": 1, "utc": true}, {"year": 2022, "month": 5, "date": 31, "utc": true}]},
          "axis": {
            "values": [
              {"year": 2017, "month": 1, "date": 1, "utc": true}, {"year": 2017, "month": 7, "date": 1, "utc": true},
              {"year": 2018, "month": 1, "date": 1, "utc": true}, {"year": 2018, "month": 7, "date": 1, "utc": true},
              {"year": 2019, "month": 1, "date": 1, "utc": true}, {"year": 2019, "month": 7, "date": 1, "utc": true},
              {"year": 2020, "month": 1, "date": 1, "utc": true}, {"year": 2020, "month": 7, "date": 1, "utc": true},
              {"year": 2021, "month": 1, "date": 1, "utc": true}, {"year": 2021, "month": 7, "date": 1, "utc": true},
              {"year": 2022, "month": 1, "date": 1, "utc": true}
            ],
            "format": "%m/%Y", "labelFontSize": 26, "labelPadding": 27, "tickSize": -16,
            "title": null, "labelFlush": false, "labelOverlap": false
          }
        },
        "x2": {"field": "end"},
        "y": {
          "field": "row", "type": "quantitative",
          "scale": {"domain": [0.603, 26.593], "nice": false, "zero": false},
          "axis": {
            "values": [1,2,3,4,5,6,7,8,9,10,11,12,13,14,15,16,17,18,19,20,21,22,23,24],
            "labelExpr": "datum.value >= 1 && datum.value <= 24 ? ['GSAT0101','GSAT0102','GSAT0103','GSAT0203','GSAT0204','GSAT0205','GSAT0206','GSAT0208','GSAT0209','GSAT0210','GSAT0211','GSAT0207','GSAT0212','GSAT0213','GSAT0214','GSAT0215','GSAT0216','GSAT0217','GSAT0218','GSAT0219','GSAT0220','GSAT0221','GSAT0222','GSAT0223'][datum.value - 1] : ''",
            "tickSize": -16, "labelPadding": 30, "labelFontSize": 26,
            "title": "SV", "titleFontSize": 27, "titleFontWeight": "normal",
            "titleX": -182, "titleY": 468, "titleAngle": -90, "titleBaseline": "middle", "titleAlign": "center"
          }
        }
      }
    },
    {
      "data": {"name": "blue"},
      "transform": [{"lookup": "sv", "from": {"data": {"name": "svs"}, "key": "sv", "fields": ["row"]}}],
      "mark": {"type": "rule", "stroke": "#0000FF", "strokeWidth": 6, "strokeCap": "round"},
      "encoding": {
        "x": {"field": "start", "type": "temporal", "axis": null},
        "x2": {"field": "end"},
        "y": {"field": "row", "type": "quantitative", "axis": null}
      }
    },
    {
      "data": {"name": "events"},
      "transform": [
        {"lookup": "sv", "from": {"data": {"name": "svs"}, "key": "sv", "fields": ["row"]}}
      ],
      "mark": {"type": "point", "filled": true, "opacity": 1, "strokeWidth": 0},
      "encoding": {
        "x": {"field": "date", "type": "temporal", "axis": null},
        "y": {"field": "row", "type": "quantitative", "axis": null},
        "color": {
          "field": "status", "type": "nominal",
          "scale": {"domain": ["healthy", "unavailable", "SISE"], "range": ["#00FF00", "#0000FF", "#FF0000"]},
          "legend": {"orient": "none", "legendX": 325, "legendY": 21, "direction": "horizontal", "title": null,
            "labelExpr": "datum.label === 'SISE' ? 'SISE > 25.02m (σURA,DF=6m @ 3E-5)' : datum.label"}
        },
        "shape": {
          "field": "status", "type": "nominal",
          "scale": {"domain": ["healthy", "unavailable", "SISE"], "range": ["circle", "circle", "square"]},
          "legend": {"orient": "none", "legendX": 325, "legendY": 21, "direction": "horizontal", "title": null,
            "labelExpr": "datum.label === 'SISE' ? 'SISE > 25.02m (σURA,DF=6m @ 3E-5)' : datum.label"}
        },
        "size": {"condition": {"test": "datum.status === 'SISE'", "value": 160}, "value": 72}
      }
    },
    {
      "data": {"name": "arrows"},
      "transform": [{"filter": "datum.dir === 'down'"}],
      "mark": {"type": "point", "shape": "M-0.875,-0.99L0.875,-0.99L0.875,0.415L1.25,0.415L0,0.99L-1.25,0.415L-0.875,0.415Z",
        "size": 57600, "filled": true, "fill": "#FFC000", "stroke": "#1CF2FA", "strokeWidth": 5, "strokeJoin": "miter", "opacity": 1},
      "encoding": {
        "x": {"field": "date", "type": "temporal",
          "axis": {
            "orient": "top", "labels": false, "title": null, "tickSize": -16,
            "values": [
              {"year": 2017, "month": 7, "date": 1, "utc": true},
              {"year": 2018, "month": 1, "date": 1, "utc": true}, {"year": 2018, "month": 7, "date": 1, "utc": true},
              {"year": 2019, "month": 1, "date": 1, "utc": true}, {"year": 2019, "month": 7, "date": 1, "utc": true},
              {"year": 2020, "month": 1, "date": 1, "utc": true}, {"year": 2020, "month": 7, "date": 1, "utc": true},
              {"year": 2021, "month": 1, "date": 1, "utc": true}, {"year": 2021, "month": 7, "date": 1, "utc": true},
              {"year": 2022, "month": 1, "date": 1, "utc": true}
            ]
          }
        },
        "y": {"field": "row", "type": "quantitative", "axis": null}
      }
    },
    {
      "data": {"name": "arrows"},
      "transform": [{"filter": "datum.dir === 'up'"}],
      "mark": {"type": "point", "shape": "M-0.875,0.99L0.875,0.99L0.875,-0.415L1.25,-0.415L0,-0.99L-1.25,-0.415L-0.875,-0.415Z",
        "size": 57600, "filled": true, "fill": "#FFC000", "stroke": "#1CF2FA", "strokeWidth": 5, "strokeJoin": "miter", "opacity": 1},
      "encoding": {
        "x": {"field": "date", "type": "temporal", "axis": null},
        "y": {"field": "row", "type": "quantitative", "axis": null}
      }
    },
    {
      "data": {"name": "arrows"},
      "mark": {"type": "text", "lineBreak": "\n", "font": "Liberation Sans", "fontSize": 40, "lineHeight": 51,
        "align": "center", "baseline": "middle", "color": "#0B3A52"},
      "encoding": {
        "x": {"field": "date", "type": "temporal", "axis": null},
        "y": {"field": "textRow", "type": "quantitative", "axis": null},
        "text": {"field": "label"}
      }
    },
    {
      "data": {"name": "notes"},
      "mark": {"type": "text", "font": "DejaVu Sans", "fontSize": 25, "align": "right", "baseline": "alphabetic", "color": "#000000"},
      "encoding": {
        "x": {"field": "date", "type": "temporal", "axis": null},
        "y": {"field": "row", "type": "quantitative", "axis": null},
        "text": {"field": "text"}
      }
    }
  ],
  "resolve": {"axis": {"x": "independent", "y": "independent"}},
  "config": {
    "font": "DejaVu Sans",
    "view": {"stroke": "#262626", "strokeWidth": 1},
    "axis": {
      "labelFont": "DejaVu Sans", "titleFont": "DejaVu Sans",
      "labelColor": "#262626", "titleColor": "#262626",
      "domainColor": "#262626", "tickColor": "#262626", "grid": false
    },
    "legend": {
      "labelFont": "DejaVu Sans", "labelFontSize": 23, "labelColor": "#000000",
      "symbolSize": 55, "symbolStrokeWidth": 0, "labelOffset": 40, "columnPadding": 50,
      "padding": 13, "strokeColor": "#262626", "fillColor": "#FFFFFF", "labelLimit": 1000
    }
  }
}
